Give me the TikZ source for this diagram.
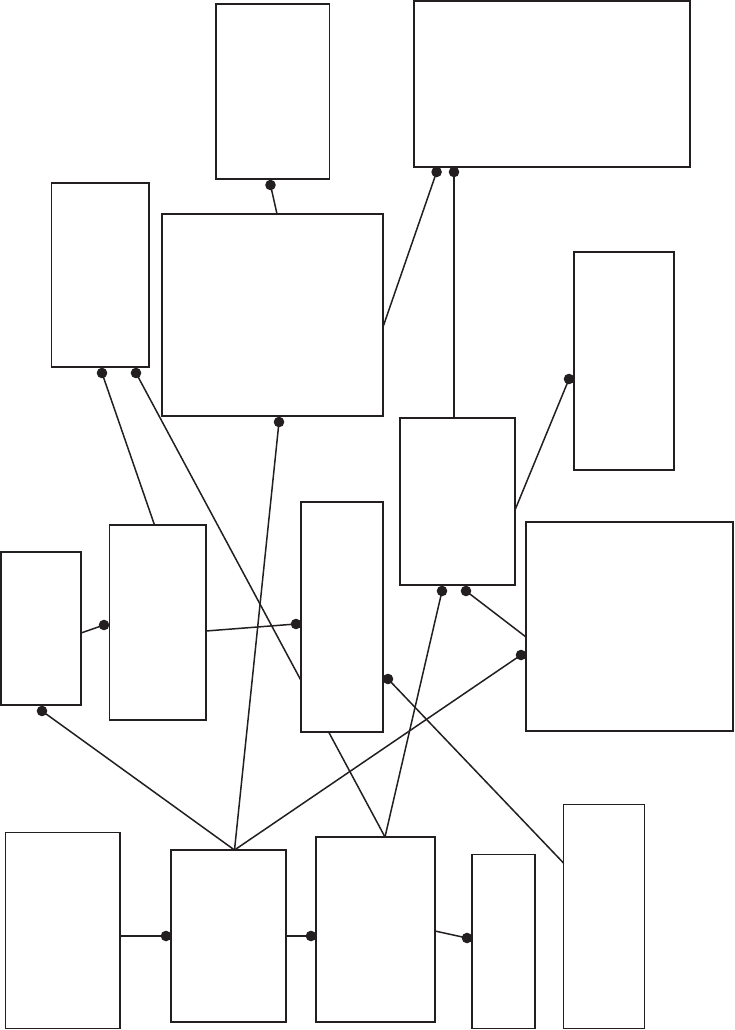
\documentclass[tikz,border=0pt]{standalone}
\usetikzlibrary{calc}
\definecolor{ink}{HTML}{231F20}
\pgfdeclarelayer{bg}
\pgfsetlayers{bg,main}
\tikzset{
  box/.style={draw=ink, line width=1.1pt, fill=white, rectangle, inner sep=0pt, outer sep=0pt},
  conn/.style={draw=ink, line width=1.5pt},
  dot/.style={fill=ink}
}
\begin{document}
\begin{tikzpicture}[x=1pt,y=-1pt]
\useasboundingbox (0,0) rectangle (734,1030);
% boxes
\node[box, minimum width=113.5, minimum height=175] (A) at (272.75,91.5) {};
\node[box, minimum width=276, minimum height=166] (B) at (552,84) {};
\node[box, minimum width=97.5, minimum height=184] (C) at (100.25,275) {};
\node[box, minimum width=221, minimum height=202] (D) at (272.5,315) {};
\node[box, minimum width=100, minimum height=218] (E) at (624,361) {};
\node[box, minimum width=115, minimum height=167] (F) at (457.5,501.5) {};
\node[box, minimum width=82, minimum height=230] (G) at (342,617) {};
\node[box, minimum width=96.5, minimum height=195] (H) at (157.75,622.5) {};
\node[box, minimum width=80, minimum height=153] (I) at (41,628.5) {};
\node[box, minimum width=207, minimum height=209] (J) at (629.5,626.5) {};
\node[box, minimum width=114.5, minimum height=196] (K) at (62.75,930.5) {};
\node[box, minimum width=115, minimum height=172] (L) at (228.5,936) {};
\node[box, minimum width=119, minimum height=185] (M) at (375.5,929.5) {};
\node[box, minimum width=63, minimum height=174] (N) at (503.5,941.5) {};
\node[box, minimum width=81, minimum height=224] (O) at (604,916.5) {};
% dot positions
\coordinate (dA) at (270.5,185);
\coordinate (dB1) at (436.6,172);
\coordinate (dB2) at (454,172);
\coordinate (dE) at (569,379);
\coordinate (dC1) at (102,373);
\coordinate (dC2) at (136,373);
\coordinate (dH) at (104,625);
\coordinate (dG1) at (296,624);
\coordinate (dD) at (279,422);
\coordinate (dI) at (42,711);
\coordinate (dJ) at (521,655);
\coordinate (dF1) at (442,591);
\coordinate (dF2) at (466,591);
\coordinate (dG2) at (388,679);
\coordinate (dL) at (166,936);
\coordinate (dM) at (311,936);
\coordinate (dN) at (467,938);
% connectors
\begin{pgfonlayer}{bg}
\draw[conn] ([xshift=4.5pt]D.north) -- (dA);
\draw[conn] ([yshift=-12pt]D.east) -- (dB1);
\draw[conn] ([xshift=-3.5pt]F.north) -- (dB2);
\draw[conn] ([yshift=-8.5pt]F.east) -- (dE);
\draw[conn] ([xshift=-3.25pt]H.north) -- (dC1);
\draw[conn] ([xshift=9.5pt]M.north) -- (dC2);
\draw[conn] ([yshift=-4.5pt]I.east) -- (dH);
\draw[conn] ([yshift=-8.5pt]H.east) -- (dG1);
\draw[conn] ([xshift=6pt]L.north) -- (dD);
\draw[conn] ([xshift=6pt]L.north) -- (dI);
\draw[conn] ([xshift=6pt]L.north) -- (dJ);
\draw[conn] ([xshift=9.5pt]M.north) -- (dF1);
\draw[conn] ([yshift=-10.5pt]J.west) -- (dF2);
\draw[conn] ([yshift=53.5pt]O.west) -- (dG2);
\draw[conn] ([yshift=-5.5pt]K.east) -- (dL);
\draw[conn] (L.east) -- (dM);
\draw[conn] ([yshift=-1.5pt]M.east) -- (dN);
\end{pgfonlayer}
% dots
\foreach \d in {dA,dB1,dB2,dE,dC1,dC2,dH,dG1,dD,dI,dJ,dF1,dF2,dG2,dL,dM,dN}
  \fill[dot] (\d) circle[radius=5.3];
\end{tikzpicture}
\end{document}
